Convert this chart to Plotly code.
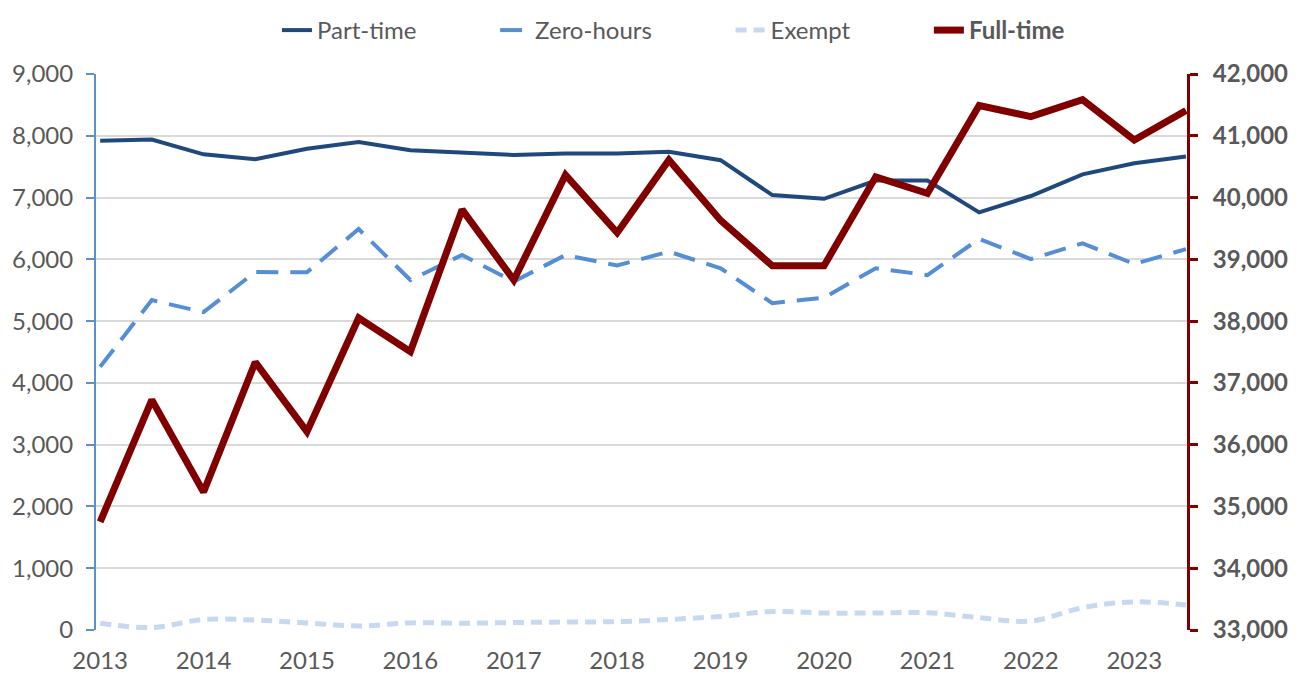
import plotly.graph_objects as go

periods = [2013.0, 2013.5, 2014.0, 2014.5, 2015.0, 2015.5, 2016.0, 2016.5, 2017.0, 2017.5,
           2018.0, 2018.5, 2019.0, 2019.5, 2020.0, 2020.5, 2021.0, 2021.5, 2022.0, 2022.5,
           2023.0, 2023.5]
year_ticks = [2013, 2014, 2015, 2016, 2017, 2018, 2019, 2020, 2021, 2022, 2023]

part_time = [7920, 7940, 7700, 7620, 7790, 7900, 7765, 7735, 7690, 7715, 7715,
             7740, 7605, 7040, 6980, 7275, 7275, 6760, 7025, 7375, 7555, 7665]
zero_hours = [4260, 5340, 5145, 5795, 5790, 6490, 5665, 6070, 5640, 6070, 5900,
              6125, 5855, 5290, 5380, 5855, 5745, 6330, 6005, 6260, 5925, 6165]
exempt = [110, 40, 170, 160, 115, 65, 115, 110, 120, 130, 135,
          170, 220, 300, 275, 275, 280, 200, 145, 360, 455, 405]
full_time = [34750, 36725, 35235, 37335, 36210, 38050, 37505, 39805, 38665, 40365, 39430,
             40610, 39630, 38895, 38895, 40335, 40070, 41490, 41310, 41585, 40930, 41410]

FONT = "Lato"
GREY = "#595959"
PAD = "\u00a0" * 12

fig = go.Figure()
fig.add_trace(go.Scatter(x=periods, y=part_time, name="Part-time" + PAD, mode="lines",
                         line=dict(color="#1F497D", width=4)))
fig.add_trace(go.Scatter(x=periods, y=zero_hours, name="Zero-hours" + PAD, mode="lines",
                         line=dict(color="#558ED5", width=4, dash="22px,12px")))
fig.add_trace(go.Scatter(x=periods, y=exempt, name="Exempt" + PAD, mode="lines",
                         line=dict(color="#C6D9F1", width=5, dash="11px,7px", shape="spline")))
fig.add_trace(go.Scatter(x=periods, y=full_time, name="<b>Full-time</b>", mode="lines",
                         line=dict(color="#800000", width=7), yaxis="y2"))

fig.update_layout(
    width=1293, height=670,
    margin=dict(l=88, r=114, t=66, b=48, autoexpand=False),
    paper_bgcolor="white", plot_bgcolor="white",
    font=dict(family=FONT, size=24, color=GREY),
    showlegend=True,
    legend=dict(orientation="h", xref="container", yref="container",
                x=0.208, xanchor="left", y=1.0, yanchor="top",
                font=dict(family=FONT, size=24, color=GREY),
                traceorder="normal"),
    xaxis=dict(range=[2012.96, 2023.51], tickmode="array", tickvals=year_ticks,
               ticktext=[str(y) for y in year_ticks], showgrid=False, zeroline=False,
               showline=False, ticks="", ticklabelstandoff=14, automargin=False,
               tickfont=dict(family=FONT, size=24, color=GREY)),
    yaxis=dict(range=[0, 9000], dtick=1000, tickformat=",d", showgrid=True,
               gridcolor="#D9D9D9", gridwidth=2, zeroline=False,
               showline=True, linecolor="#5B8FD0", linewidth=2,
               ticks="outside", ticklen=8, tickwidth=2, tickcolor="#5B8FD0",
               ticklabelstandoff=8, automargin=False,
               tickfont=dict(family=FONT, size=24, color=GREY)),
    yaxis2=dict(range=[33000, 42000], dtick=1000, tickformat=",d", overlaying="y",
                side="right", showgrid=False, zeroline=False,
                showline=True, linecolor="#800000", linewidth=3,
                ticks="outside", ticklen=8, tickwidth=3, tickcolor="#800000",
                ticklabelstandoff=10, automargin=False,
                tickfont=dict(family=FONT, size=24, color=GREY, weight="bold")),
)

fig.write_html("out.html")
